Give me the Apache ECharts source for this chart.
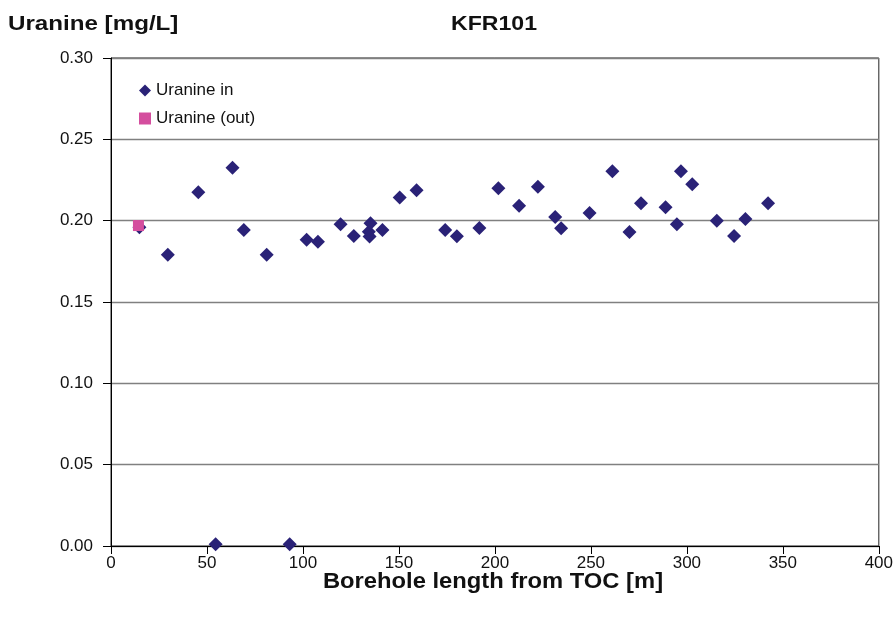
<!DOCTYPE html>
<html>
<head>
<meta charset="utf-8">
<script src="https://cdn.jsdelivr.net/npm/echarts@6/dist/echarts.min.js"></script>
<style>html,body{margin:0;padding:0;background:#fff;}#c{width:896px;height:619px;}</style>
</head>
<body>
<div id="c"></div>
<script>
const chartTitle = 'KFR101';
const yTitle = 'Uranine [mg/L]';
const xTitle = 'Borehole length from TOC [m]';
const seriesInName = 'Uranine in';
const seriesOutName = 'Uranine (out)';

// Uranine in: borehole length [m]
const inLength = [14.8, 29.6, 45.5, 54.5, 63.3, 69.2, 81.1, 93.1, 101.9, 107.8, 119.6, 126.5,
  134.3, 134.7, 135.2, 141.4, 150.4, 159.2, 174.1, 180.2, 191.9, 201.8, 212.6, 222.4,
  231.4, 234.5, 249.3, 261.2, 270.1, 276.1, 288.9, 294.8, 296.9, 302.8, 315.6, 324.6,
  330.5, 342.3];
// Uranine in: concentration [mg/L]
const inValue = [0.196, 0.179, 0.2175, 0.001, 0.2326, 0.1943, 0.179, 0.001, 0.1883, 0.1871, 0.1978, 0.1906,
  0.1932, 0.1902, 0.1984, 0.1943, 0.2142, 0.2187, 0.1943, 0.1904, 0.1955, 0.2199, 0.2092, 0.2209,
  0.2022, 0.1953, 0.2047, 0.2304, 0.1931, 0.2107, 0.2082, 0.1978, 0.2304, 0.2224, 0.2000, 0.1906,
  0.2010, 0.2107];

// Uranine (out)
const outLength = [14.3];
const outValue = [0.197];

const xTicks = [0, 400, 50];      // min, max, interval
const yTicks = [0, 0.30, 0.05];   // min, max, interval

const inData = inLength.map((x, i) => [x, inValue[i]]);
const outData = outLength.map((x, i) => [x, outValue[i]]);

const FONT = '"Liberation Sans", Arial, sans-serif';
const chart = echarts.init(document.getElementById('c'), null, {renderer: 'canvas'});
chart.setOption({
  animation: false,
  backgroundColor: '#ffffff',
  textStyle: {fontFamily: FONT},
  grid: {left: 111, right: 13, top: 58, bottom: 73, show: true, borderColor: '#222', borderWidth: 1, backgroundColor: 'transparent'},
  graphic: [
    {type: 'text', x: 8, y: 24, scaleX: 1.15, silent: true,
      style: {text: yTitle, font: 'bold 21px ' + FONT, fill: '#111', textAlign: 'left', textVerticalAlign: 'middle'}},
    {type: 'text', x: 494, y: 24, scaleX: 1.1, silent: true,
      style: {text: chartTitle, font: 'bold 21px ' + FONT, fill: '#111', textAlign: 'center', textVerticalAlign: 'middle'}},
    {type: 'text', x: 493, y: 582, scaleX: 1.08, silent: true,
      style: {text: xTitle, font: 'bold 22px ' + FONT, fill: '#111', textAlign: 'center', textVerticalAlign: 'middle'}}
  ],
  legend: {
    orient: 'vertical', left: 134, top: 77, itemGap: 11, itemWidth: 12, itemHeight: 12,
    textStyle: {fontSize: 17, color: '#111', fontFamily: FONT},
    data: [
      {name: seriesInName, icon: 'diamond', itemStyle: {color: '#2A2277', opacity: 1}},
      {name: seriesOutName, icon: 'rect', itemStyle: {color: '#D44E9E', opacity: 1}}
    ]
  },
  xAxis: {
    type: 'value', min: xTicks[0], max: xTicks[1], interval: xTicks[2],
    axisLine: {show: true, lineStyle: {color: '#000', width: 1}},
    axisTick: {show: true, length: 8, inside: false, lineStyle: {color: '#000'}},
    axisLabel: {fontSize: 17, color: '#111', margin: 9},
    splitLine: {show: false}
  },
  yAxis: {
    type: 'value', min: yTicks[0], max: yTicks[1], interval: yTicks[2],
    axisLine: {show: true, lineStyle: {color: '#000', width: 1}},
    axisTick: {show: true, length: 8, inside: false, lineStyle: {color: '#000'}},
    axisLabel: {fontSize: 17, color: '#111', margin: 18, formatter: v => v.toFixed(2)},
    splitLine: {show: true, lineStyle: {color: '#808080', width: 1.3}}
  },
  series: [
    {name: seriesInName, type: 'scatter', data: inData, symbol: 'diamond', symbolSize: 14,
      itemStyle: {color: '#2A2277', opacity: 1}},
    {name: seriesOutName, type: 'scatter', data: outData, symbol: 'rect', symbolSize: 11,
      itemStyle: {color: '#D44E9E', opacity: 1}}
  ]
});
</script>
</body>
</html>
